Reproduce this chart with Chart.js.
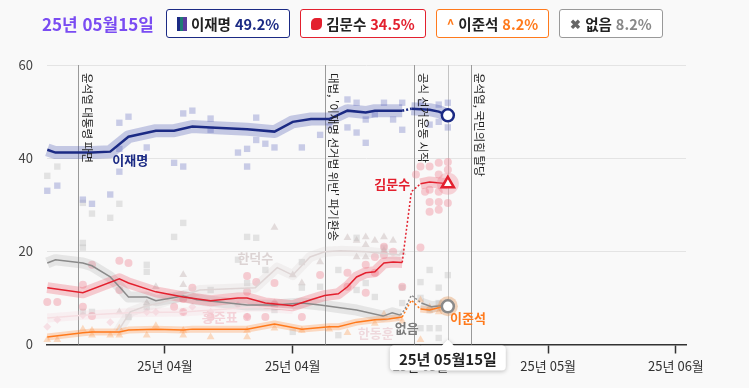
<!DOCTYPE html>
<html lang="ko">
<head>
<meta charset="utf-8">
<script src="https://cdn.jsdelivr.net/npm/chart.js@4.4.1/dist/chart.umd.min.js"></script>
<style>
  html, body { margin: 0; padding: 0; background: #f9f9f9; }
  body { width: 749px; height: 388px; position: relative; overflow: hidden;
         font-family: "Noto Sans CJK KR", "Noto Sans", sans-serif; }
  #wrap { position: absolute; left: 0; top: 0; width: 749px; height: 388px; }
  .top { position: absolute; left: 42px; top: 9px; display: flex; align-items: center; gap: 10px; z-index: 2; }
  .date { color: #7a4cf2; font-weight: 700; font-size: 17px; margin-right: 2px; }
  .chip { height: 29px; box-sizing: border-box; border: 1px solid; border-radius: 3px; padding: 0 10px;
          display: flex; align-items: center; font-size: 14.5px; font-weight: 700; color: #222; background: #fff; }
  .chip .v { margin-left: 4px; }
  .ic { display: inline-block; margin-right: 4px; }
  .ic-lee { width: 10px; height: 14px; background: linear-gradient(90deg, #1b2a84 0 35%, #1e7d74 35% 65%, #5a3c9e 65%); }
  .ic-kim { width: 11px; height: 12px; background: #e3202e; border-radius: 5px 2px 5px 2px; }
  .ic-jun { color: #ff7a1c; font-size: 13px; }
  .ic-none { color: #666; font-size: 13px; }
</style>
</head>
<body>
<div class="top">
  <span class="date">25년 05월15일</span>
  <span class="chip" style="border-color:#1b2a84"><i class="ic ic-lee"></i>이재명<span class="v" style="color:#1b2a84">49.2%</span></span>
  <span class="chip" style="border-color:#e3202e"><i class="ic ic-kim"></i>김문수<span class="v" style="color:#e3202e">34.5%</span></span>
  <span class="chip" style="border-color:#ff7a1c"><span class="ic ic-jun">^</span>이준석<span class="v" style="color:#ff7a1c">8.2%</span></span>
  <span class="chip" style="border-color:#999"><span class="ic ic-none">✖</span>없음<span class="v" style="color:#888">8.2%</span></span>
</div>
<div id="wrap"><canvas id="pollChart"></canvas></div>
<script>
// x = days from 25-04-01
const xTickDays = [12, 26, 40, 54, 68];
const xTickLabels = ['25년 04월', '25년 04월', '25년 05월', '25년 05월', '25년 06월'];
const currentDay = 43;
const currentLabel = '25년 05월15일';

const eventDays = [2.5, 29.5, 39.3, 45.5];
const eventTexts = ['윤석열 대통령 파면', "대법, '이재명 선거법 위반' 파기환송", '공식 선거운동 시작', '윤석열, 국민의힘 탈당'];

// poll averages [day, %]
const leeAvg = [[-0.9,41.8],[0,41.2],[4,41.2],[6,41.4],[8,44.6],[11,45.9],[13,45.9],[15,46.8],[17,46.6],[21,46.2],[24,45.7],
  [26,47.8],[28,48.4],[30,48.4],[32,50.2],[34,49.8],[35,50.2],[38,50.2],[39,50.6],[41,50.4],[42,50.0],[43,49.2]];
const kimAvg = [[-0.9,12.2],[3,11.1],[7,14.1],[8,13.2],[11,11.3],[14,10.2],[17,9.4],[20,10.0],[21,10.0],[23,8.9],[26,8.3],
  [28,9.6],[29.5,10.5],[31,10.9],[32,12.4],[33,14.5],[34,15.4],[35,15.6],[36,17.5],[37,17.7],[38,17.6],[39,32.8],[40,34.5],[41,34.9],[43,34.5]];
const junAvg = [[-0.9,1.6],[3,2.5],[4,2.7],[7,2.7],[8,3.1],[11,3.3],[14,3.1],[15,3.3],[18,3.3],[21,3.3],[24,4.4],[27,3.3],
  [30,3.8],[31,3.8],[33,4.8],[35,5.3],[36.5,5.5],[38,5.9],[39,9.5],[40,7.6],[41,7.4],[42.4,8.1],[43,8.2]];
const noneAvg = [[-0.9,17.5],[0,18.2],[3,17.5],[4,16.9],[6,14.5],[7,12.4],[8,10.2],[10,10.2],[11,9.4],[14,10.4],[15.5,9.6],
  [18,9.1],[21,8.5],[24,8.5],[27,8.9],[29,8.5],[30.4,8.1],[33,7.4],[35.9,6.1],[36.9,6.8],[37.8,6.3],[38.3,7.6],[39,10.6],
  [40.1,8.9],[41.2,8.1],[42.3,8.3],[43,8.2]];
const hanAvg = [[6.8,2.7],[8.2,7.0],[10,8.3],[11.5,8.9],[15.8,11.7],[21.9,12.2],[24.3,16.5],[26,14.9],[27.9,18.8],
  [29.5,19.9],[31.2,20.1],[34.1,19.9],[37.8,19.2]];
const hongAvg = [[-0.9,5.7],[3,6.3],[8,6.8],[14,7.0],[18,7.5],[22,8.1],[26,7.5]];

// individual polls [day, %]
const leePolls = [[-0.9,33.0],[0.2,34.1],[3,31.1],[4,30.2],[6,32.2],[7,47.6],[7,42.0],[7,37.1],[8,48.9],[10,42.3],[13,39.0],
  [14,49.6],[14,38.2],[15,50.2],[17,48.5],[17,46.1],[20,41.2],[21,42.0],[21,38.2],[22,48.7],[22,43.9],[23,43.1],[24,42.3],
  [27,42.3],[29,45.0],[30,46.8],[32,52.6],[32,46.6],[33,51.9],[33,45.5],[34,43.3],[34,48.3],[35,49.4],[36,51.9],[37,48.3],
  [38,51.9],[38,46.1],[40,51.9],[41,47.2],[42,51.5],[42,47.8],[43,51.9],[43,46.6]];
const kimPolls = [[-0.9,9.1],[0.2,9.1],[3,12.8],[3,8.1],[4,17.1],[4,6.1],[7,18.0],[8,17.5],[7,11.7],[13,8.1],[14,9.8],[14,7.0],
  [15,12.2],[17,5.9],[21,14.7],[21,5.9],[22,13.4],[21,11.3],[24,13.2],[24,8.5],[27,5.9],[23,5.9],[29,14.9],[32,12.4],[32,15.4],
  [34,17.1],[35,15.4],[36,21.0],[36,19.2],[38,12.4],[34,11.1],[35,18.8],[37,19.9],[39.5,36.5],[40,38.2],[41,38.2],[42,39.0],
  [42,36.5],[43,39.2],[43,37.5],[40.5,32.8],[42,32.8],[41,30.6],[42,30.6],[41,28.5],[42,28.9],[43,30.4],[40,20.8],[41,33.2]];
const junPolls = [[-0.9,1.0],[0.2,1.0],[3,3.3],[4,3.0],[4,2.0],[6,2.0],[7,2.0],[7,3.5],[10,2.0],[11,4.0],[14,3.0],[14,2.0],
  [17,1.6],[21,1.6],[21,3.0],[24,3.5],[27,3.0],[30,3.3],[32,2.5],[35,4.5],[36,6.5],[38,5.0],[40,9.5],[41,8.0],[42,7.0],[43,9.0],[40,1.0]];
const nonePolls = [[-0.9,36.2],[0.2,38.2],[3,30.4],[4,28.1],[3,21.8],[3,20.8],[6,27.2],[7,30.2],[10,17.1],[10,15.6],[14,26.1],
  [13,23.1],[21,23.1],[20,18.2],[3,7.0],[4,7.0],[8,5.9],[10,8.1],[17,11.7],[21,13.2],[22,22.9],[23,16.0],[24,7.4],[27,12.2],
  [29,12.4],[27,17.7],[31,16.0],[33,22.9],[33,11.7],[34,13.2],[35,10.2],[36,20.8],[38,12.2],[38,8.9],[40,13.4],[41,16.0],
  [42,12.2],[43,14.9],[40,10.0],[41,7.4],[42,8.9],[40,3.5],[41,3.5],[42,3.5],[42,1.4],[31,2.0],[26,2.7]];
const hanPolls = [[7,7.0],[10,8.9],[11,12.4],[14,12.8],[14,15.0],[24,25.1],[26,14.9],[27,13.2],[29,17.7],[32,22.9],[33,22.3],
  [34,21.4],[34,23.1],[35,22.3],[36,23.1],[36,20.2],[37,22.3],[33,18.8],[34,18.8],[38,19.7]];
const hongPolls = [[-0.9,3.8],[0.2,5.3],[3,6.3],[6,4.8],[10,7.0],[11,7.0],[14,7.0],[15,8.1],[17,7.0],[20,8.5],[21,6.0],[24,9.0]];

// name labels placed in data units [day, %]
const nameLabels = [
  { text: '이재명', at: [8.2, 39.5], color: '#1b2a84' },
  { text: '김문수', at: [36.9, 34.4], color: '#e3202e' },
  { text: '이준석', at: [45.2, 5.7], color: '#ff7a1c' },
  { text: '없음', at: [38.5, 3.5], color: '#7c7c7c' },
  { text: '한덕수', at: [21.9, 18.6], color: '#dcd3d3' },
  { text: '홍준표', at: [18, 5.9], color: '#f4d2d8' },
  { text: '한동훈', at: [35.1, 2.5], color: '#efd9dd' }
];

const gapFrom = 37.5, gapTo = 40.2;
const inGap = c => c.p0.parsed.x >= gapFrom && c.p1.parsed.x <= gapTo;
const pts = arr => arr.map(([x, y]) => ({ x, y }));
const last = arr => [arr[arr.length - 1]];

function avgLine(data, color, width) {
  return { type: 'line', data: pts(data), borderColor: color, borderWidth: width, pointRadius: 0,
    tension: 0, order: 2, clip: false,
    segment: { borderDash: c => inGap(c) ? [2, 2] : undefined } };
}
function band(data, color, width) {
  return { type: 'line', data: pts(data), borderColor: color, borderWidth: width, pointRadius: 0,
    tension: 0, order: 5, clip: false, borderCapStyle: 'butt', borderJoinStyle: 'round',
    segment: { borderColor: c => inGap(c) ? 'rgba(0,0,0,0)' : undefined } };
}
function polls(data, color, style, r) {
  return { type: 'scatter', data: pts(data), backgroundColor: color, borderWidth: 0,
    pointStyle: style, pointRadius: r, order: 9, clip: false };
}
function marker(data, border, style, r, fill) {
  return { type: 'scatter', data: pts(data), backgroundColor: fill || '#fff', borderColor: border,
    borderWidth: 2.5, pointStyle: style, pointRadius: r, order: 0, clip: false };
}

const overlay = {
  id: 'overlay',
  beforeDatasetsDraw(chart) {
    const { ctx, chartArea: a, scales: { x } } = chart;
    ctx.save();
    ctx.lineWidth = 1;
    eventDays.forEach(d => {
      const px = Math.round(x.getPixelForValue(d)) + 0.5;
      ctx.strokeStyle = '#9a9a9a';
      ctx.beginPath(); ctx.moveTo(px, a.top); ctx.lineTo(px, a.bottom); ctx.stroke();
    });
    const cx = Math.round(x.getPixelForValue(currentDay)) + 0.5;
    ctx.strokeStyle = '#c4c4c4';
    ctx.beginPath(); ctx.moveTo(cx, a.top); ctx.lineTo(cx, a.bottom); ctx.stroke();
    ctx.restore();
  },
  afterDatasetsDraw(chart) {
    const { ctx, chartArea: a, scales: { x, y } } = chart;
    ctx.save();
    ctx.font = '11.5px "Noto Sans CJK KR", sans-serif';
    ctx.fillStyle = '#1e1e1e';
    ctx.textBaseline = 'middle';
    ctx.textAlign = 'left';
    eventDays.forEach((d, i) => {
      const px = x.getPixelForValue(d);
      ctx.save();
      ctx.translate(px + 9, a.top + 8);
      ctx.rotate(Math.PI / 2);
      ctx.fillText(eventTexts[i], 0, 0);
      ctx.restore();
    });
    ctx.font = 'bold 13px "Noto Sans CJK KR", sans-serif';
    ctx.textAlign = 'center';
    nameLabels.forEach(l => {
      ctx.fillStyle = l.color;
      ctx.fillText(l.text, x.getPixelForValue(l.at[0]), y.getPixelForValue(l.at[1]));
    });
    ctx.restore();
  },
  afterDraw(chart) {
    const { ctx, chartArea: a, scales: { x } } = chart;
    const cx = x.getPixelForValue(currentDay);
    ctx.save();
    ctx.font = 'bold 15px "Noto Sans CJK KR", sans-serif';
    const w = ctx.measureText(currentLabel).width + 18, h = 25;
    const left = cx - w / 2, top = a.bottom + 1;
    ctx.shadowColor = 'rgba(0,0,0,0.25)';
    ctx.shadowBlur = 4; ctx.shadowOffsetY = 1;
    ctx.fillStyle = '#fff';
    ctx.beginPath();
    ctx.moveTo(left + 4, top);
    ctx.lineTo(cx - 6, top); ctx.lineTo(cx, top - 6); ctx.lineTo(cx + 6, top);
    ctx.lineTo(left + w - 4, top); ctx.quadraticCurveTo(left + w, top, left + w, top + 4);
    ctx.lineTo(left + w, top + h - 4); ctx.quadraticCurveTo(left + w, top + h, left + w - 4, top + h);
    ctx.lineTo(left + 4, top + h); ctx.quadraticCurveTo(left, top + h, left, top + h - 4);
    ctx.lineTo(left, top + 4); ctx.quadraticCurveTo(left, top, left + 4, top);
    ctx.fill();
    ctx.shadowColor = 'transparent';
    ctx.fillStyle = '#222';
    ctx.textAlign = 'center';
    ctx.textBaseline = 'middle';
    ctx.fillText(currentLabel, cx, top + h / 2 + 1);
    ctx.restore();
  }
};

Chart.defaults.font.family = '"Noto Sans CJK KR", "Noto Sans", sans-serif';
Chart.defaults.font.size = 13;
Chart.defaults.color = '#333';

new Chart(document.getElementById('pollChart'), {
  type: 'line',
  data: {
    datasets: [
      marker(last(leeAvg), '#1b2a84', 'circle', 6),
      marker(last(kimAvg), '#e3202e', 'triangle', 7),
      marker(last(noneAvg), '#8a8a8a', 'circle', 6),
      { type: 'scatter', data: pts(last(kimAvg)), backgroundColor: 'rgba(240,120,135,0.3)', pointRadius: 11, borderWidth: 0, order: 1, clip: false },
      { type: 'scatter', data: pts(last(junAvg)), backgroundColor: 'rgba(225,150,90,0.4)', pointRadius: 10, borderWidth: 0, order: 1, clip: false },
      avgLine(leeAvg, '#1b2a84', 2.5),
      avgLine(kimAvg, '#e3202e', 1.5),
      avgLine(noneAvg, '#8a8a8a', 1.5),
      avgLine(junAvg, '#ff7a1c', 1.5),
      avgLine(hanAvg, '#ded5d5', 1.5),
      avgLine(hongAvg, '#f5dde1', 1.5),
      band(leeAvg, 'rgba(45,60,165,0.26)', 13),
      band(kimAvg, 'rgba(236,70,90,0.26)', 11),
      band(noneAvg, 'rgba(150,150,150,0.2)', 11),
      band(junAvg, 'rgba(255,140,60,0.3)', 7),
      band(hanAvg, 'rgba(205,195,195,0.18)', 10),
      band(hongAvg, 'rgba(245,205,215,0.22)', 9),
      polls(leePolls, 'rgba(120,130,200,0.38)', 'rect', 4.5),
      polls(kimPolls, 'rgba(240,130,145,0.38)', 'circle', 4),
      polls(junPolls, 'rgba(253,165,100,0.38)', 'triangle', 4.5),
      polls(nonePolls, 'rgba(185,185,185,0.36)', 'rect', 4.5),
      polls(hanPolls, 'rgba(185,165,165,0.36)', 'triangle', 4.5),
      polls(hongPolls, 'rgba(240,180,195,0.36)', 'rectRot', 4)
    ]
  },
  options: {
    responsive: true,
    maintainAspectRatio: false,
    animation: false,
    layout: { padding: { top: 65, right: 63, bottom: 0, left: 0 } },
    plugins: { legend: { display: false }, tooltip: { enabled: false } },
    scales: {
      x: {
        type: 'linear', min: -0.93, max: 69.1,
        afterFit: s => { s.height = 43.5; },
        afterBuildTicks: s => { s.ticks = xTickDays.map(v => ({ value: v })); },
        ticks: { callback: (v, i) => xTickLabels[i], padding: 5, maxRotation: 0, autoSkip: false, color: '#333' },
        grid: { drawOnChartArea: false, tickLength: 9, tickColor: '#333', tickWidth: 1.5 },
        border: { color: '#333', width: 1.5 }
      },
      y: {
        min: 0, max: 60,
        afterFit: s => { s.width = 47; },
        ticks: { stepSize: 20, padding: 14, color: '#444' },
        grid: { color: '#e4e4e4', drawTicks: false },
        border: { display: false }
      }
    }
  },
  plugins: [overlay]
});
</script>
</body>
</html>
